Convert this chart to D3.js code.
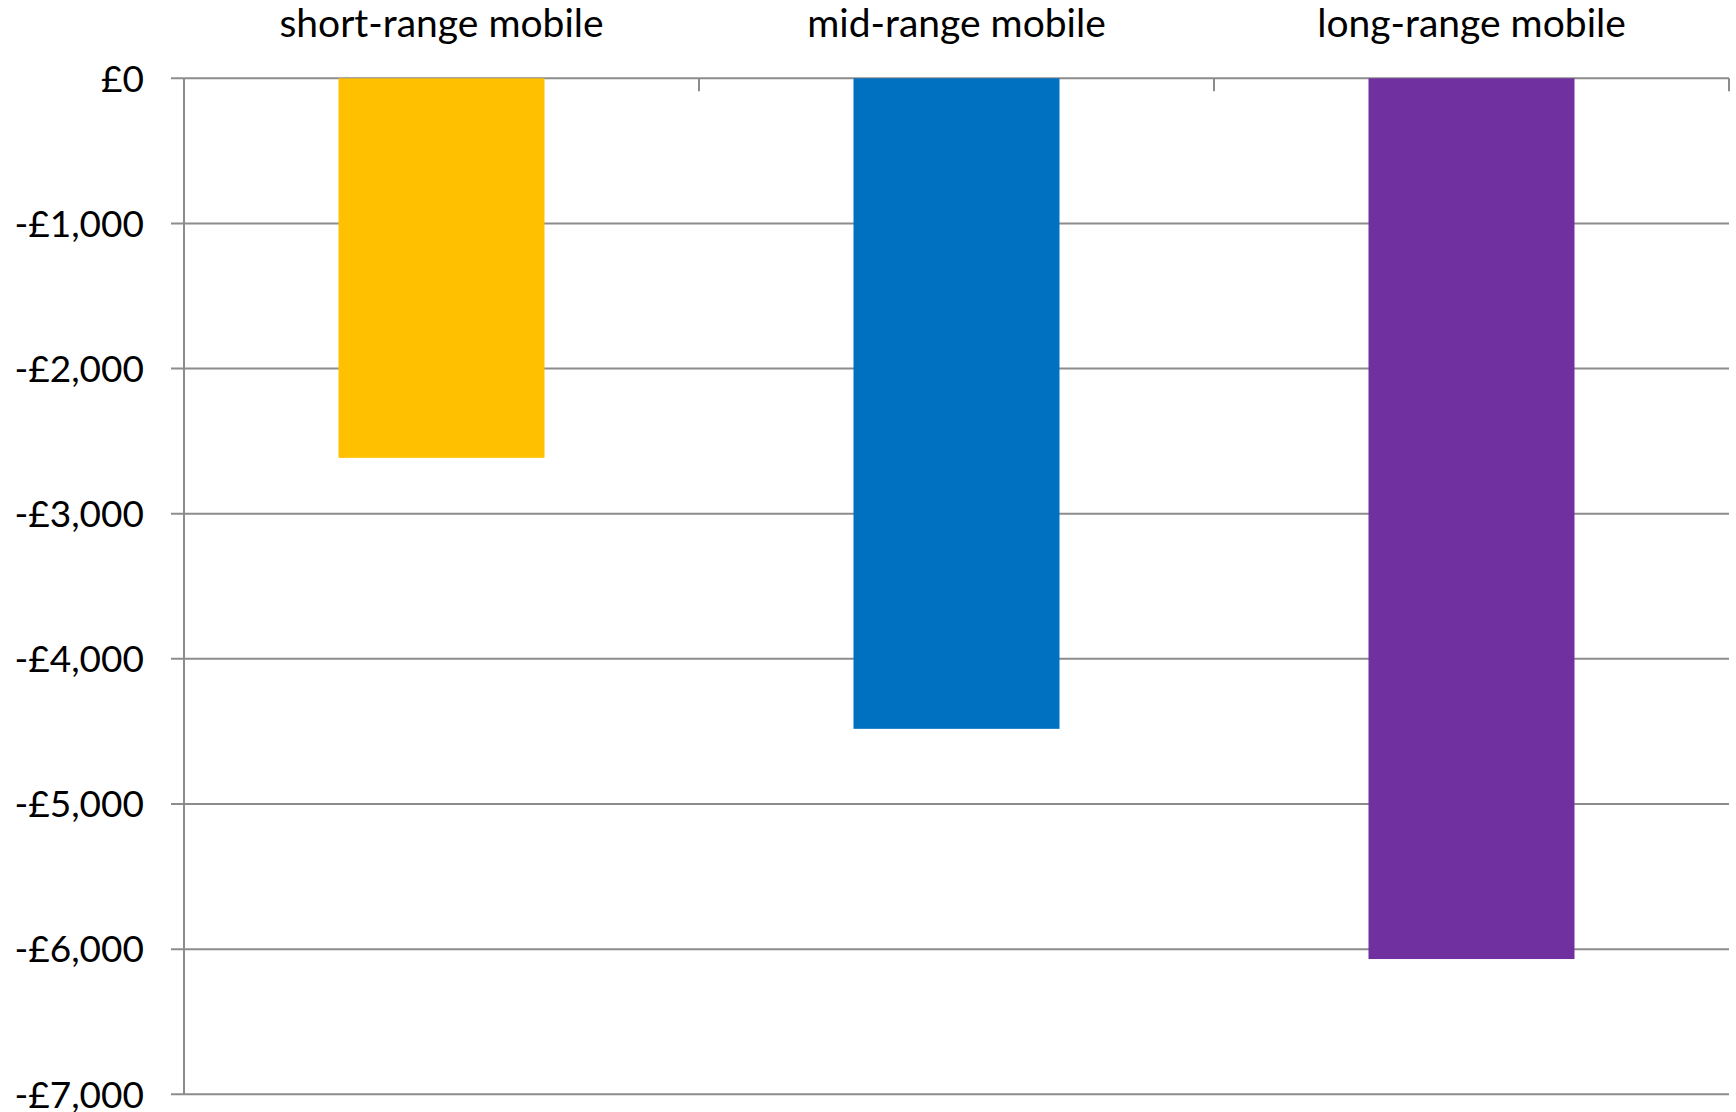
<!DOCTYPE html>
<html>
<head>
<meta charset="utf-8">
<script src="https://cdn.jsdelivr.net/npm/d3@7"></script>
<style>
  html, body { margin: 0; padding: 0; background: #ffffff; }
  svg { display: block; }
  text { font-family: Lato, "Open Sans", sans-serif; fill: #000; }
</style>
</head>
<body>
<svg id="chart" width="1736" height="1112"></svg>
<script>
// Categories and values (GBP)
const categories = ["short-range mobile", "mid-range mobile", "long-range mobile"];
const values = [-2615, -4482, -6068];
const barColors = ["#FFC000", "#0070C0", "#7030A0"];
const yTickValues = [0, -1000, -2000, -3000, -4000, -5000, -6000, -7000];
const yTickLabels = ["£0", "-£1,000", "-£2,000", "-£3,000", "-£4,000", "-£5,000", "-£6,000", "-£7,000"];

const svg = d3.select("#chart");
const plot = { left: 184, right: 1729, top: 78.3, bottom: 1094.3 };
const axisColor = "#8c8c8c";

const y = d3.scaleLinear().domain([-7000, 0]).range([plot.bottom, plot.top]);
const xCat = d3.scaleBand().domain(categories).range([plot.left, plot.right]);
const xBar = d3.scaleBand().domain(categories).range([plot.left, plot.right])
  .paddingInner(0.6).paddingOuter(0.3);

// Horizontal gridlines with outward tick stubs on the left
svg.append("g").selectAll("line")
  .data(yTickValues)
  .join("line")
  .attr("x1", plot.left - 13)
  .attr("x2", plot.right)
  .attr("y1", d => y(d))
  .attr("y2", d => y(d))
  .attr("stroke", axisColor)
  .attr("stroke-width", 2);

// Bars hang down from zero
svg.append("g").selectAll("rect")
  .data(categories)
  .join("rect")
  .attr("x", d => xBar(d))
  .attr("width", xBar.bandwidth())
  .attr("y", y(0))
  .attr("height", (d, i) => y(values[i]) - y(0))
  .attr("fill", (d, i) => barColors[i]);

// Vertical value axis line
svg.append("line")
  .attr("x1", plot.left).attr("x2", plot.left)
  .attr("y1", plot.top).attr("y2", plot.bottom)
  .attr("stroke", axisColor).attr("stroke-width", 2);

// Category axis along the zero line, ticks pointing into the plot
const catBoundaries = categories.map(c => xCat(c) + xCat.bandwidth());
svg.append("g").selectAll("line")
  .data(catBoundaries)
  .join("line")
  .attr("x1", d => d).attr("x2", d => d)
  .attr("y1", y(0)).attr("y2", y(0) + 13)
  .attr("stroke", axisColor).attr("stroke-width", 2);

// Value labels
svg.append("g").selectAll("text")
  .data(yTickValues)
  .join("text")
  .attr("x", plot.left - 40)
  .attr("y", d => y(d))
  .attr("dy", "0.36em")
  .attr("text-anchor", "end")
  .attr("font-size", 37)
  .text((d, i) => yTickLabels[i]);

// Category labels above the chart
svg.append("g").selectAll("text")
  .data(categories)
  .join("text")
  .attr("x", d => xCat(d) + xCat.bandwidth() / 2)
  .attr("y", 23)
  .attr("dy", "0.36em")
  .attr("text-anchor", "middle")
  .attr("font-size", 39)
  .text(d => d);
</script>
</body>
</html>
